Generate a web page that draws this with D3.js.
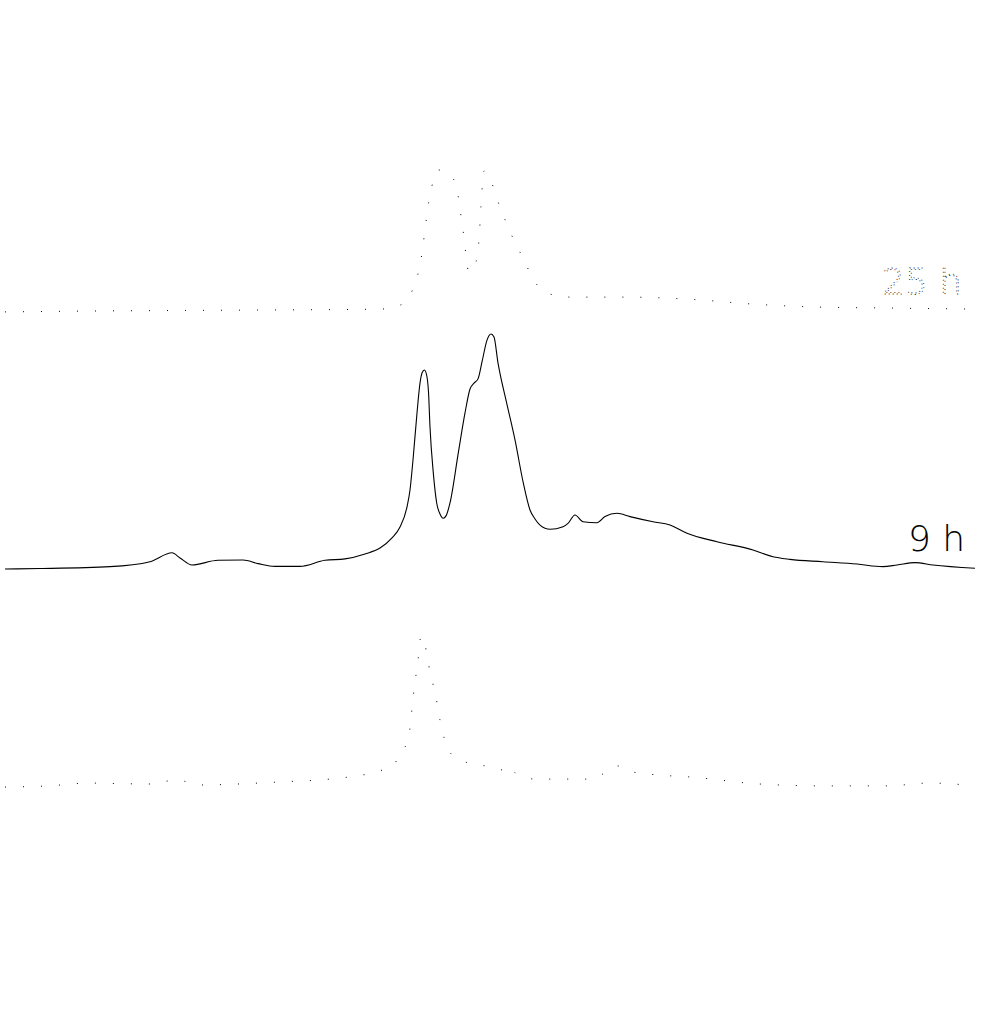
<!DOCTYPE html>
<html>
<head>
<meta charset="utf-8">
<script src="https://cdn.jsdelivr.net/npm/d3@7"></script>
<style>
  html, body { margin: 0; padding: 0; background: #fff; }
  svg { display: block; }
</style>
</head>
<body>
<svg id="chart" width="982" height="1019"></svg>
<script>
// ---- data (channel, relative intensity) ----
const channel9 = [5, 40, 110, 150, 172, 180, 192, 218, 243, 258, 275, 300, 325, 345, 365, 380, 392, 400, 407, 410, 413, 417, 420, 422, 424.5, 427, 428.5, 430, 433.3, 436.7, 440, 443.3, 446, 450, 458.3, 465, 470, 474, 478, 482, 487, 491, 494, 498, 506.7, 515, 523.3, 530, 535, 540, 550, 563, 568, 575, 583, 597, 605, 617, 630, 653, 670, 687, 717, 753, 773, 790, 823, 857, 883, 897, 915, 933, 975];
const values9 = [0, 0.2, 1.0, 3.1, 6.9, 4.7, 1.7, 3.7, 3.8, 2.3, 1.1, 1.1, 3.7, 4.3, 6.4, 8.9, 13.2, 17.9, 26.4, 33.6, 46.4, 66.4, 79.1, 83.4, 84.7, 81.7, 75.3, 60.4, 40.9, 28.1, 23.4, 21.6, 22.6, 28.1, 49.4, 66.4, 76.6, 79.1, 80.9, 88.1, 97.4, 100, 98.7, 87.7, 70.6, 54.9, 36.6, 25.1, 21.3, 18.7, 16.9, 18.0, 19.4, 23.0, 20.1, 19.7, 22.3, 23.7, 22.3, 20.1, 18.7, 15.2, 11.6, 8.1, 5.2, 4.1, 3.1, 2.1, 1.0, 1.7, 2.7, 1.7, 0.3];

const channel25 = [5, 100, 258, 380, 398, 410, 420, 430, 438, 446, 455, 463, 469, 475, 479, 481, 484, 488, 500, 512, 523, 535, 550, 570, 600, 630, 665, 700, 750, 815, 880, 975];
const values25 = [-0.6, -0.2, 0.2, 0.6, 1.9, 6.6, 19.4, 49.1, 59.8, 58.9, 54.7, 34.3, 16.4, 19.4, 30.0, 44.5, 59.4, 57.7, 44.0, 31.7, 22.3, 12.1, 7.0, 5.7, 5.7, 5.7, 5.3, 4.5, 2.8, 1.5, 1.1, 0.6];

const channelLow = [5, 48, 88, 148, 177, 200, 258, 280, 318, 349, 368, 383, 391, 401, 408, 414, 418, 421, 425, 430, 436, 440, 449, 460, 485, 503, 507, 518, 536, 592, 606, 617, 633, 660, 690, 760, 825, 895, 912, 932, 975];
const valuesLow = [-0.8, -0.3, 0.9, 0.5, 2.2, 0.1, 0.9, 1.4, 2.2, 3.5, 4.8, 6.5, 7.3, 14.1, 19.2, 40.5, 53.3, 63.5, 59.7, 48.2, 37.5, 27.7, 14.6, 10.7, 8.2, 6.5, 8.2, 4.3, 2.6, 2.6, 5.6, 8.2, 5.6, 4.3, 3.5, 0.5, -0.3, -0.3, 0.6, 0.9, -0.3];

const seriesNames = ["25 h", "9 h", ""];
const seriesOffsets = [110, 0, -92];

// ---- drawing ----
const svg = d3.select("#chart");
svg.append("rect").attr("width", 982).attr("height", 1019).attr("fill", "#fff");

const x = d3.scaleLinear().domain([0, 982]).range([0, 982]);
const y = d3.scaleLinear().domain([0, 100]).range([569, 334]);

const series = [
  { name: seriesNames[0], offset: seriesOffsets[0], xs: channel25, vs: values25, dotted: true },
  { name: seriesNames[1], offset: seriesOffsets[1], xs: channel9, vs: values9, dotted: false },
  { name: seriesNames[2], offset: seriesOffsets[2], xs: channelLow, vs: valuesLow, dotted: true }
];

const line = d3.line()
  .x(d => x(d[0]))
  .y(d => y(d[1]))
  .curve(d3.curveMonotoneX);

series.forEach(s => {
  const pts = s.xs.map((c, i) => [c, s.vs[i] + s.offset]);
  svg.append("path")
    .datum(pts)
    .attr("d", line)
    .attr("fill", "none")
    .attr("stroke", "#000")
    .attr("stroke-width", s.dotted ? 1 : 1.1)
    .attr("stroke-dasharray", s.dotted ? "1 17" : null);

  if (s.name) {
    svg.append("text")
      .attr("x", x(882))
      .attr("y", y(s.offset) - (s.name === "9 h" ? 18 : 17))
      .attr("font-family", "DejaVu Sans, sans-serif")
      .attr("font-weight", 200)
      .attr("font-size", 36)
      .attr("text-anchor", "start")
      .attr("dx", s.name === "9 h" ? 26 : 0)
      .attr("fill", s.dotted ? "none" : "#000")
      .attr("stroke", s.dotted ? "#000" : "none")
      .attr("stroke-width", 0.8)
      .attr("stroke-dasharray", s.dotted ? "1 3" : null)
      .style("opacity", 0.99)
      .text(s.name);
  }
});
</script>
</body>
</html>
